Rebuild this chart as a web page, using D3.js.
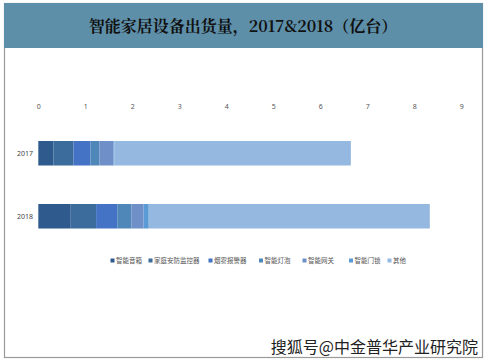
<!DOCTYPE html>
<html><head><meta charset="utf-8">
<script src="https://cdn.jsdelivr.net/npm/d3@7"></script>
<style>body{margin:0;background:#fff;}svg{display:block;}</style>
</head><body>
<svg id="c" width="488" height="362"></svg>
<script>
const title = "智能家居设备出货量，2017&2018（亿台）";
const years = ["2017", "2018"];
const seriesNames = ["智能音箱", "家庭安防监控器", "烟雾报警器", "智能灯泡", "智能网关", "智能门锁", "其他"];
const values2017 = [0.32, 0.43, 0.36, 0.19, 0.30, 0.02, 5.03];
const values2018 = [0.69, 0.54, 0.45, 0.30, 0.26, 0.11, 5.98];
const ticks = [0, 1, 2, 3, 4, 5, 6, 7, 8, 9];
const colors = ["#2f5a8e", "#3b6c9b", "#4472c4", "#4f88b8", "#6f8fc8", "#5b9bd5", "#95b8e0"];
const watermark = "搜狐号@中金普华产业研究院";

const svg = d3.select("#c");
const font = "'Noto Sans', 'Noto Sans CJK SC', sans-serif";

// outer frame
svg.append("rect").attr("x", 4.5).attr("y", 3.5).attr("width", 478).attr("height", 354)
  .attr("fill", "#fff").attr("stroke", "#9a9a9a").attr("stroke-width", 1.2);
// title bar
svg.append("rect").attr("x", 4).attr("y", 3).attr("width", 479).attr("height", 45).attr("fill", "#5e8fa9");
svg.append("text").attr("x", 243).attr("y", 32).attr("text-anchor", "middle")
  .attr("font-family", "'Noto Serif CJK SC','Noto Sans CJK SC', sans-serif").attr("font-weight", "bold")
  .attr("font-size", 16).attr("fill", "#111").text(title);

const x = d3.scaleLinear().domain([0, 9]).range([38.3, 461.3]);
const y = d3.scaleBand().domain(years).range([141, 228.5]).paddingInner(0.611).paddingOuter(0);

// axis labels (top)
const axis = d3.axisTop(x).tickValues(ticks).tickSize(0).tickPadding(0).tickFormat(d3.format("d"));
const ag = svg.append("g").attr("transform", "translate(0,109)").call(axis);
ag.select(".domain").remove();
ag.selectAll("text").attr("font-family", font).attr("font-size", 7).attr("fill", "#555");

// stacked bars
const rows = years.map((yr, i) => {
  const vals = i === 0 ? values2017 : values2018;
  const o = { year: yr };
  seriesNames.forEach((s, j) => o[s] = vals[j]);
  return o;
});
const stack = d3.stack().keys(seriesNames)(rows);
svg.append("g").selectAll("g").data(stack).join("g")
  .attr("fill", (d, i) => colors[i])
  .selectAll("rect").data(d => d).join("rect")
  .attr("x", d => x(d[0])).attr("width", d => x(d[1]) - x(d[0]))
  .attr("y", d => y(d.data.year)).attr("height", y.bandwidth());

// year labels
svg.append("g").selectAll("text").data(years).join("text")
  .attr("x", 33).attr("y", d => y(d) + y.bandwidth() / 2 + 2.5).attr("text-anchor", "end")
  .attr("font-family", font).attr("font-size", 7).attr("fill", "#444").text(d => d);

// legend
const legendX = [110.5, 148.5, 208.5, 259, 302.5, 349, 387.5];
const lg = svg.append("g").selectAll("g").data(seriesNames).join("g")
  .attr("transform", (d, i) => `translate(${legendX[i]},262)`);
lg.append("rect").attr("x", 0).attr("y", -3.5).attr("width", 4).attr("height", 4).attr("fill", (d, i) => colors[i]);
lg.append("text").attr("x", 5.5).attr("y", 0.8).attr("font-family", font).attr("font-size", 6.5)
  .attr("fill", "#555").text(d => d);

// watermark
svg.append("text").attr("x", 478).attr("y", 353).attr("text-anchor", "end")
  .attr("font-family", "'Noto Sans CJK SC', sans-serif").attr("font-size", 16)
  .attr("fill", "#222").attr("stroke", "#fff").attr("stroke-width", 0.6).attr("paint-order", "stroke")
  .text(watermark);
</script>
</body></html>
